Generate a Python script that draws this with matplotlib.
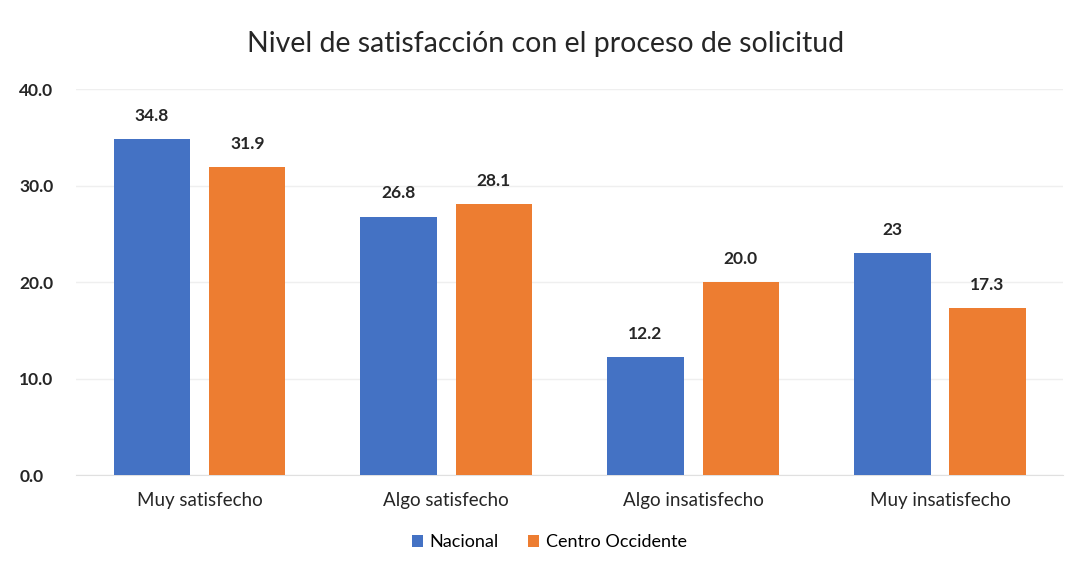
import matplotlib
matplotlib.use("Agg")
import matplotlib.pyplot as plt
import numpy as np

categories = ["Muy satisfecho", "Algo satisfecho", "Algo insatisfecho", "Muy insatisfecho"]
nacional = [34.8, 26.8, 12.2, 23.0]
centro = [31.9, 28.1, 20.0, 17.3]
nacional_labels = ["34.8", "26.8", "12.2", "23"]
centro_labels = ["31.9", "28.1", "20.0", "17.3"]
series_names = ["Nacional", "Centro Occidente"]
yticks = [0, 10, 20, 30, 40]

plt.rcParams['font.family'] = ['Lato', 'DejaVu Sans']

fig = plt.figure(figsize=(10.73, 5.61), dpi=100)
ax = fig.add_axes([0.071, 0.153, 0.92, 0.688])

x = np.arange(len(categories))
w = 0.31
off = 0.193
c1 = "#4472C4"
c2 = "#ED7D31"
b1 = ax.bar(x - off, nacional, w, color=c1, label=series_names[0], zorder=3)
b2 = ax.bar(x + off, centro, w, color=c2, label=series_names[1], zorder=3)

for bars, labels in ((b1, nacional_labels), (b2, centro_labels)):
    for rect, lab in zip(bars, labels):
        ax.annotate(lab, (rect.get_x() + rect.get_width() / 2, rect.get_height()),
                    xytext=(0, 11), textcoords="offset points", ha="center", va="bottom",
                    fontsize=12.5, fontweight="bold", color="#262626")

ax.set_xlim(-0.5, 3.5)
ax.set_ylim(0, 40)
ax.set_yticks(yticks)
ax.set_yticklabels([f"{v:.1f}" for v in yticks], fontsize=12.5, fontweight="bold", color="#262626")
ax.set_xticks(x)
ax.set_xticklabels(categories, fontsize=13.5, color="#262626")
ax.tick_params(axis="both", length=0)
ax.tick_params(axis="y", pad=41)
ax.tick_params(axis="x", pad=12)
for lab in ax.get_yticklabels():
    lab.set_horizontalalignment("left")
ax.grid(axis="y", color="#EFEFEF", linewidth=1, zorder=0)
for s in ["top", "right", "left"]:
    ax.spines[s].set_visible(False)
ax.spines["bottom"].set_color("#E0E0E0")

fig.suptitle("Nivel de satisfacción con el proceso de solicitud", x=0.508, y=0.945, fontsize=20.5, color="#262626")
fig.legend(loc="lower center", bbox_to_anchor=(0.512, -0.01), ncol=2, frameon=False,
           fontsize=13, handlelength=0.6, handleheight=0.6, handletextpad=0.4, columnspacing=1.6)

fig.savefig("out.png", dpi=100)
